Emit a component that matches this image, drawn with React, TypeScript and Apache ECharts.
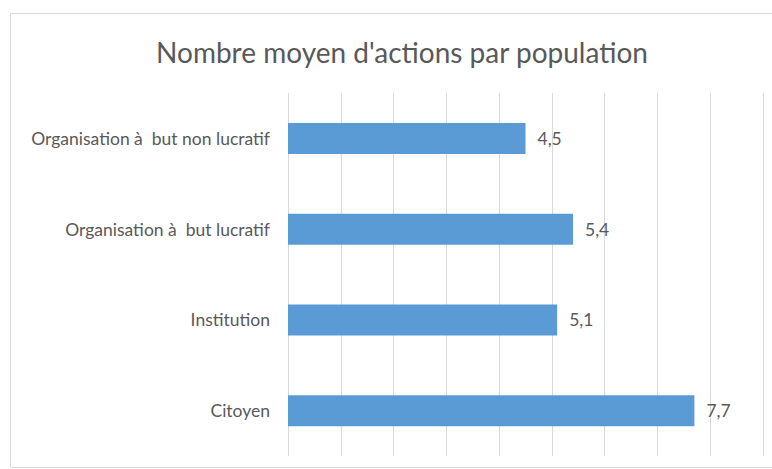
import React, { useEffect, useRef } from "react";
import * as echarts from "echarts";

const title = "Nombre moyen d'actions par population";
const categories = [
  "Citoyen",
  "Institution",
  "Organisation à  but lucratif",
  "Organisation à  but non lucratif",
];
const values = [7.7, 5.1, 5.4, 4.5];
const axisMin = 0;
const axisMax = 9;
const axisInterval = 1;

const FONT = "Lato, 'Open Sans', sans-serif";

export default function App() {
  const ref = useRef<HTMLDivElement>(null);
  useEffect(() => {
    if (!ref.current) return;
    const chart = echarts.init(ref.current, null, { renderer: "svg" });
    chart.setOption({
      animation: false,
      backgroundColor: "#ffffff",
      title: {
        text: title,
        left: 397,
        textAlign: "center",
        top: 33,
        textStyle: {
          fontFamily: FONT,
          fontSize: 28,
          fontWeight: "normal",
          color: "#595959",
        },
      },
      graphic: [
        {
          type: "rect",
          shape: { x: 10.5, y: 13.5, width: 800, height: 454 },
          style: { fill: "none", stroke: "#d9d9d9", lineWidth: 1 },
          silent: true,
          z: -10,
        },
      ],
      grid: { left: 288, right: 9, top: 93, bottom: 13, containLabel: false },
      xAxis: {
        type: "value",
        min: axisMin,
        max: axisMax,
        interval: axisInterval,
        axisLabel: { show: false },
        axisLine: { show: false },
        axisTick: { show: false },
        splitLine: { show: true, lineStyle: { color: "#d9d9d9", width: 1 } },
      },
      yAxis: {
        type: "category",
        data: categories,
        axisLine: { show: false },
        axisTick: { show: false },
        axisLabel: {
          margin: 18,
          fontFamily: FONT,
          fontSize: 17.5,
          color: "#595959",
        },
      },
      series: [
        {
          type: "bar",
          data: values,
          barWidth: 31,
          itemStyle: { color: "#5b9bd5" },
          label: {
            show: true,
            position: "right",
            distance: 12,
            fontFamily: FONT,
            fontSize: 17.5,
            color: "#595959",
            formatter: (p: any) => String(p.value).replace(".", ","),
          },
        },
      ],
    });
    return () => chart.dispose();
  }, []);
  return <div ref={ref} style={{ width: 772, height: 469, position: "absolute", left: 0, top: 0 }} />;
}
